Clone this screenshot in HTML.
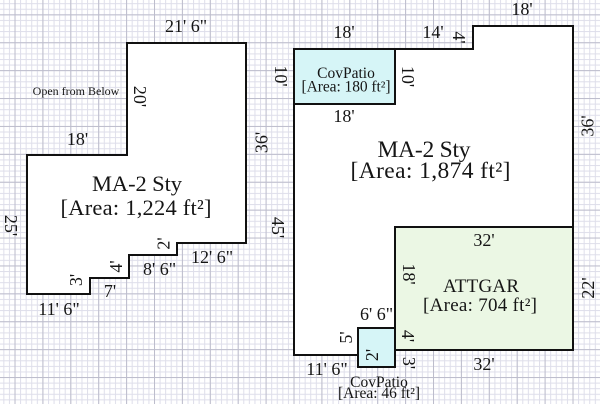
<!DOCTYPE html>
<html><head><meta charset="utf-8"><style>
html,body{margin:0;padding:0;background:#fff;}
svg{display:block;}
text{font-family:"Liberation Serif",serif;fill:#151515;}
</style></head><body>
<svg width="600" height="404" viewBox="0 0 600 404" xmlns="http://www.w3.org/2000/svg">
<defs>
<pattern id="mn" patternUnits="userSpaceOnUse" x="3.34" y="3.18" width="5.58" height="5.58">
<rect x="0" y="0" width="1" height="5.58" fill="#dedeea"/><rect x="0" y="0" width="5.58" height="1" fill="#dedeea"/>
</pattern>
<pattern id="mj" patternUnits="userSpaceOnUse" x="14.5" y="14.34" width="27.9" height="27.9">
<rect x="0" y="0" width="1" height="27.9" fill="#bdbdcc"/><rect x="0" y="0" width="27.9" height="1" fill="#bdbdcc"/>
</pattern>
</defs>
<rect width="600" height="404" fill="#fff"/>
<rect width="600" height="404" fill="url(#mn)"/>
<rect width="600" height="404" fill="url(#mj)"/>

<g stroke="#111" stroke-width="2" stroke-linejoin="miter">
<polygon points="127,43 246,43 246,243 177,243 177,255 129,255 129,278 90,278 90,294 27,294 27,155 127,155" fill="#fff"/>
<polygon points="294,49 473,49 473,26 573,26 573,227 395,227 395,355 294,355" fill="#fff"/>
<rect x="395" y="227" width="178" height="123" fill="#ebf7e4"/>
<rect x="294" y="49" width="101" height="55" fill="#d6f5f7"/>
<rect x="358" y="328" width="37" height="39" fill="#d6f5f7"/>
</g>

<g text-anchor="middle">
<text x="186" y="32" font-size="18">21' 6&quot;</text>
<text x="76" y="95" font-size="12">Open from Below</text>
<text x="77.5" y="145" font-size="18">18'</text>
<text x="137" y="191" font-size="22.5" textLength="90" lengthAdjust="spacing">MA-2 Sty</text>
<text x="136" y="215" font-size="22.5" textLength="151" lengthAdjust="spacing">[Area: 1,224 ft²]</text>
<text x="212" y="263" font-size="18">12' 6&quot;</text>
<text x="159.5" y="275" font-size="18">8' 6&quot;</text>
<text x="110" y="297" font-size="18">7'</text>
<text x="59" y="315" font-size="18">11' 6&quot;</text>

<text x="522" y="15" font-size="18">18'</text>
<text x="344" y="38" font-size="18">18'</text>
<text x="433" y="38" font-size="18">14'</text>
<text x="346" y="78" font-size="15.5">CovPatio</text>
<text x="346" y="91.5" font-size="15.5" textLength="89" lengthAdjust="spacing">[Area: 180 ft²]</text>
<text x="344" y="122" font-size="18">18'</text>
<text x="424" y="157" font-size="23.5" textLength="93" lengthAdjust="spacing">MA-2 Sty</text>
<text x="430.5" y="178" font-size="23.5" textLength="160" lengthAdjust="spacing">[Area: 1,874 ft²]</text>
<text x="484" y="246" font-size="18">32'</text>
<text x="481" y="292" font-size="19" textLength="76" lengthAdjust="spacing">ATTGAR</text>
<text x="480" y="311" font-size="19" textLength="114" lengthAdjust="spacing">[Area: 704 ft²]</text>
<text x="376.5" y="320" font-size="18">6' 6&quot;</text>
<text x="484" y="370" font-size="18">32'</text>
<text x="327" y="375" font-size="18">11' 6&quot;</text>
<text x="379" y="387" font-size="15.5">CovPatio</text>
<text x="379" y="398" font-size="15.5" textLength="82" lengthAdjust="spacing">[Area: 46 ft²]</text>
</g>

<g text-anchor="middle" dominant-baseline="central" font-size="18">
<text transform="translate(140,96.5) rotate(90)">20'</text>
<text transform="translate(261.5,142.5) rotate(-90)">36'</text>
<text transform="translate(11,225.5) rotate(90)">25'</text>
<text transform="translate(163.5,243.5) rotate(-90)">2'</text>
<text transform="translate(116,266.5) rotate(-90)">4'</text>
<text transform="translate(76,280) rotate(-90)">3'</text>
<text transform="translate(459,37.5) rotate(90)">4'</text>
<text transform="translate(281,76) rotate(90)">10'</text>
<text transform="translate(408,76.5) rotate(90)">10'</text>
<text transform="translate(587.5,126) rotate(-90)">36'</text>
<text transform="translate(278,227.5) rotate(90)">45'</text>
<text transform="translate(409,274) rotate(90)">18'</text>
<text transform="translate(588,288) rotate(-90)">22'</text>
<text transform="translate(346,337.5) rotate(-90)">5'</text>
<text transform="translate(408,336) rotate(90)">4'</text>
<text transform="translate(372,355) rotate(-90)">2'</text>
<text transform="translate(409,363) rotate(90)">3'</text>
</g>
</svg>
</body></html>
